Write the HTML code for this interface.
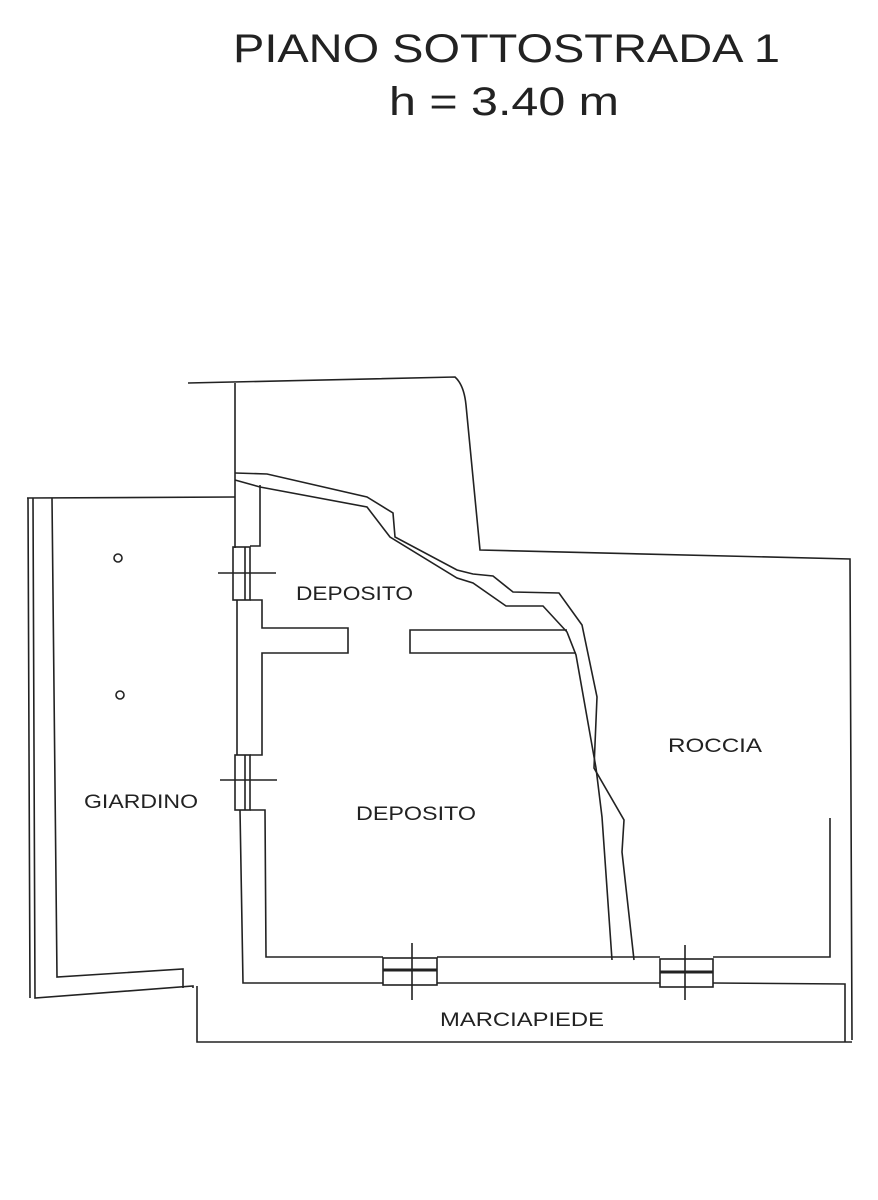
<!DOCTYPE html>
<html><head><meta charset="utf-8"><style>
html,body{margin:0;padding:0;background:#fff;}
svg{display:block;}
text{font-family:"Liberation Sans",Arial,sans-serif;fill:#222;}
</style></head><body>
<svg width="878" height="1200" viewBox="0 0 878 1200" xmlns="http://www.w3.org/2000/svg">
<text x="233" y="62" font-size="40" textLength="547" lengthAdjust="spacingAndGlyphs">PIANO SOTTOSTRADA 1</text>
<text x="389" y="115" font-size="40" textLength="230" lengthAdjust="spacingAndGlyphs">h = 3.40 m</text>
<g fill="none" stroke="#222" stroke-width="1.6">
<!-- top outline -->
<path d="M188 383 L455 377 Q464 385 466 405 L480 550 L850 559 L852 1040"/>
<path d="M235 383 L235 548"/>
<!-- giardino -->
<path d="M27 498 L235 497"/>
<path d="M28 498 L30 998 M33 498 L35 998 L193 986 L193 988 M197 986 L197 1042 L852 1042"/>
<path d="M52 498 L57 977 L183 969 L183 988"/>
<circle cx="118" cy="558" r="4"/>
<circle cx="120" cy="695" r="4"/>
<!-- deposito west wall -->
<path d="M260 485 L260 546 L250 546"/>
<rect x="233" y="547" width="17" height="53"/>
<path d="M245 547 L245 600"/>
<path d="M218 573 L276 573"/>
<path d="M250 600 L262 600 L262 628 L348 628 L348 653 L262 653 L262 755 L250 755"/>
<path d="M237 600 L237 755"/>
<rect x="235" y="755" width="15" height="55"/>
<path d="M245 755 L245 810"/>
<path d="M220 780 L277 780"/>
<path d="M250 810 L265 810 L266 957 L383 957 M437 957 L660 957 M713 957 L830 957 L830 818"/>
<path d="M240 810 L243 983 L383 983 M437 983 L660 983 M713 983 L845 984 L845 1042"/>
<rect x="383" y="958" width="54" height="27"/>
<path d="M412 943 L412 1000"/>
<path d="M383 970 L437 970" stroke-width="3"/>
<rect x="660" y="959" width="53" height="28"/>
<path d="M685 945 L685 1000"/>
<path d="M660 972 L713 972" stroke-width="3"/>
<!-- partition right -->
<path d="M567 630 L410 630 L410 653 L576 653"/>
<!-- rock boundary -->
<path d="M235 473 L267 474 L367 497 L393 513 L395 537 L457 570 L473 574 L493 576 L513 592 L559 593 L582 625 L597 697 L594 768 L624 820 L622 852 L634 960"/>
<path d="M235 480 L260 487 L367 507 L390 537 L457 578 L473 583 L506 606 L543 606 L567 632 L576 655 L596 768 L602 817 L612 960"/>
</g>
<g font-size="19">
<text x="296" y="600" textLength="117" lengthAdjust="spacingAndGlyphs">DEPOSITO</text>
<text x="356" y="820" textLength="120" lengthAdjust="spacingAndGlyphs">DEPOSITO</text>
<text x="84" y="808" textLength="114" lengthAdjust="spacingAndGlyphs">GIARDINO</text>
<text x="668" y="752" textLength="94" lengthAdjust="spacingAndGlyphs">ROCCIA</text>
<text x="440" y="1026" textLength="164" lengthAdjust="spacingAndGlyphs">MARCIAPIEDE</text>
</g>
</svg>
</body></html>
